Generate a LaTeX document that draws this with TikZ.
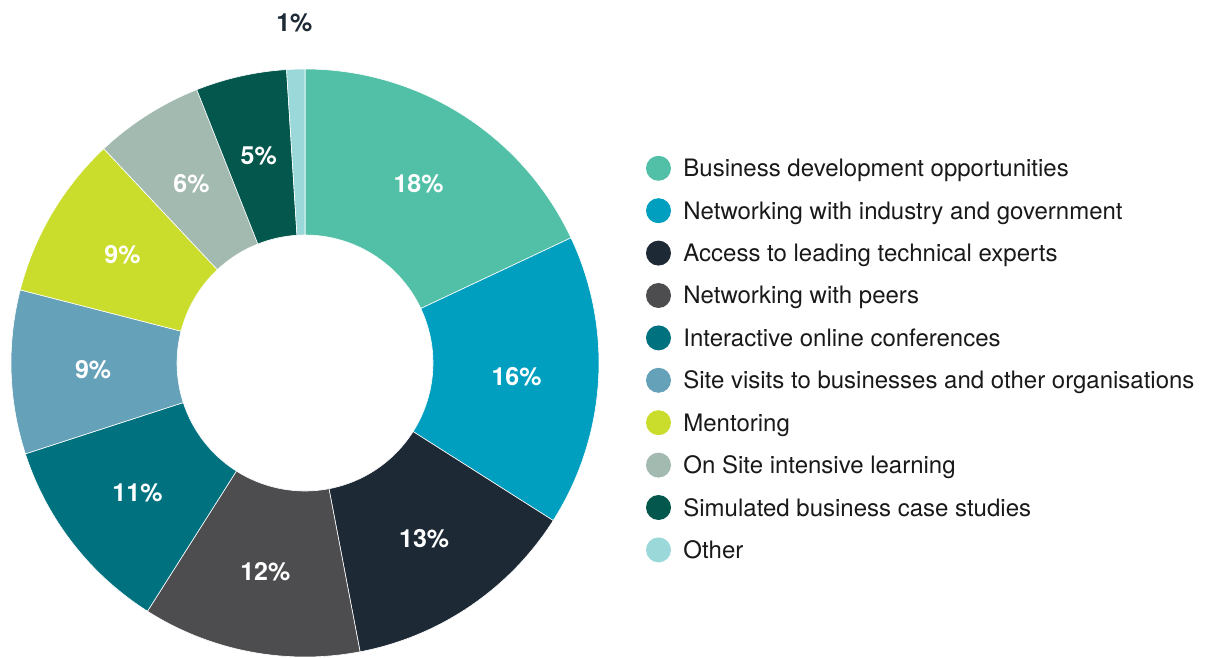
\documentclass[tikz,border=0pt]{standalone}
\usepackage{fontspec}
\setmainfont{TeX Gyre Heros}
\definecolor{cBiz}{HTML}{52C0A7}
\definecolor{cInd}{HTML}{009FC0}
\definecolor{cExp}{HTML}{1E2936}
\definecolor{cPeer}{HTML}{4D4D4F}
\definecolor{cConf}{HTML}{00727F}
\definecolor{cSite}{HTML}{65A1B9}
\definecolor{cMent}{HTML}{CADC2C}
\definecolor{cLearn}{HTML}{A3BAB0}
\definecolor{cCase}{HTML}{03574C}
\definecolor{cOther}{HTML}{9AD8DA}
\usetikzlibrary{positioning}
\begin{document}
\begin{tikzpicture}
	[x=1pt,y=1pt,
	slice/.style={draw=white,line width=0.6pt},
	pct/.style={font=\bfseries\fontsize{25}{29}\selectfont,inner sep=0pt},
	keydot/.style={circle,inner sep=0pt,minimum size=25pt},
	keytext/.style={font=\fontsize{24}{28}\selectfont,inner sep=0pt,
text height=17pt,text depth=0pt,text=black!90}]
	\useasboundingbox (0,0) rectangle (1205,657);
	\coordinate (o) at (305,294);
	% ring slices: start/end angle, colour, value, label radius, label colour
	\foreach \a/\b/\c/\v/\r/\t in {90/25.2/cBiz/18/212/white,
		25.2/-32.4/cInd/16/212/white, -32.4/-79.2/cExp/13/212/white,
		-79.2/-122.4/cPeer/12/212/white, -122.4/-162/cConf/11/212/white,
		-162/-194.4/cSite/9/212/white, -194.4/-226.8/cMent/9/212/white,
		-226.8/-248.4/cLearn/6/212/white, -248.4/-266.4/cCase/5/212/white,
		-266.4/-270/cOther/1/340/cExp}
	{
		\pgfmathsetmacro{\m}{(\a+\b)/2}
		\filldraw[slice,fill=\c] ([shift={(\a:294)}]o) arc[start angle=\a,end angle=\b,radius=294]
			-- ([shift={(\b:128)}]o) arc[start angle=\b,end angle=\a,radius=128] -- cycle;
		\node[pct,text=\t] (p\v\c) at ([shift={(\m:\r)}]o) {\v\%};
	}
	% legend
	\foreach \c/\txt [count=\i] in {cBiz/Business development opportunities,
		cInd/Networking with industry and government,
		cExp/Access to leading technical experts,
		cPeer/Networking with peers,
		cConf/Interactive online conferences,
		cSite/Site visits to businesses and other organisations,
		cMent/Mentoring,
		cLearn/On Site intensive learning,
		cCase/Simulated business case studies,
		cOther/Other}
	{
		\node[keydot,fill=\c] (d\i) at (658.5,{657-168.3-42.4*(\i-1)}) {};
		\node[keytext,right=12pt of d\i] (t\i) {\txt};
	}
\end{tikzpicture}
\end{document}
